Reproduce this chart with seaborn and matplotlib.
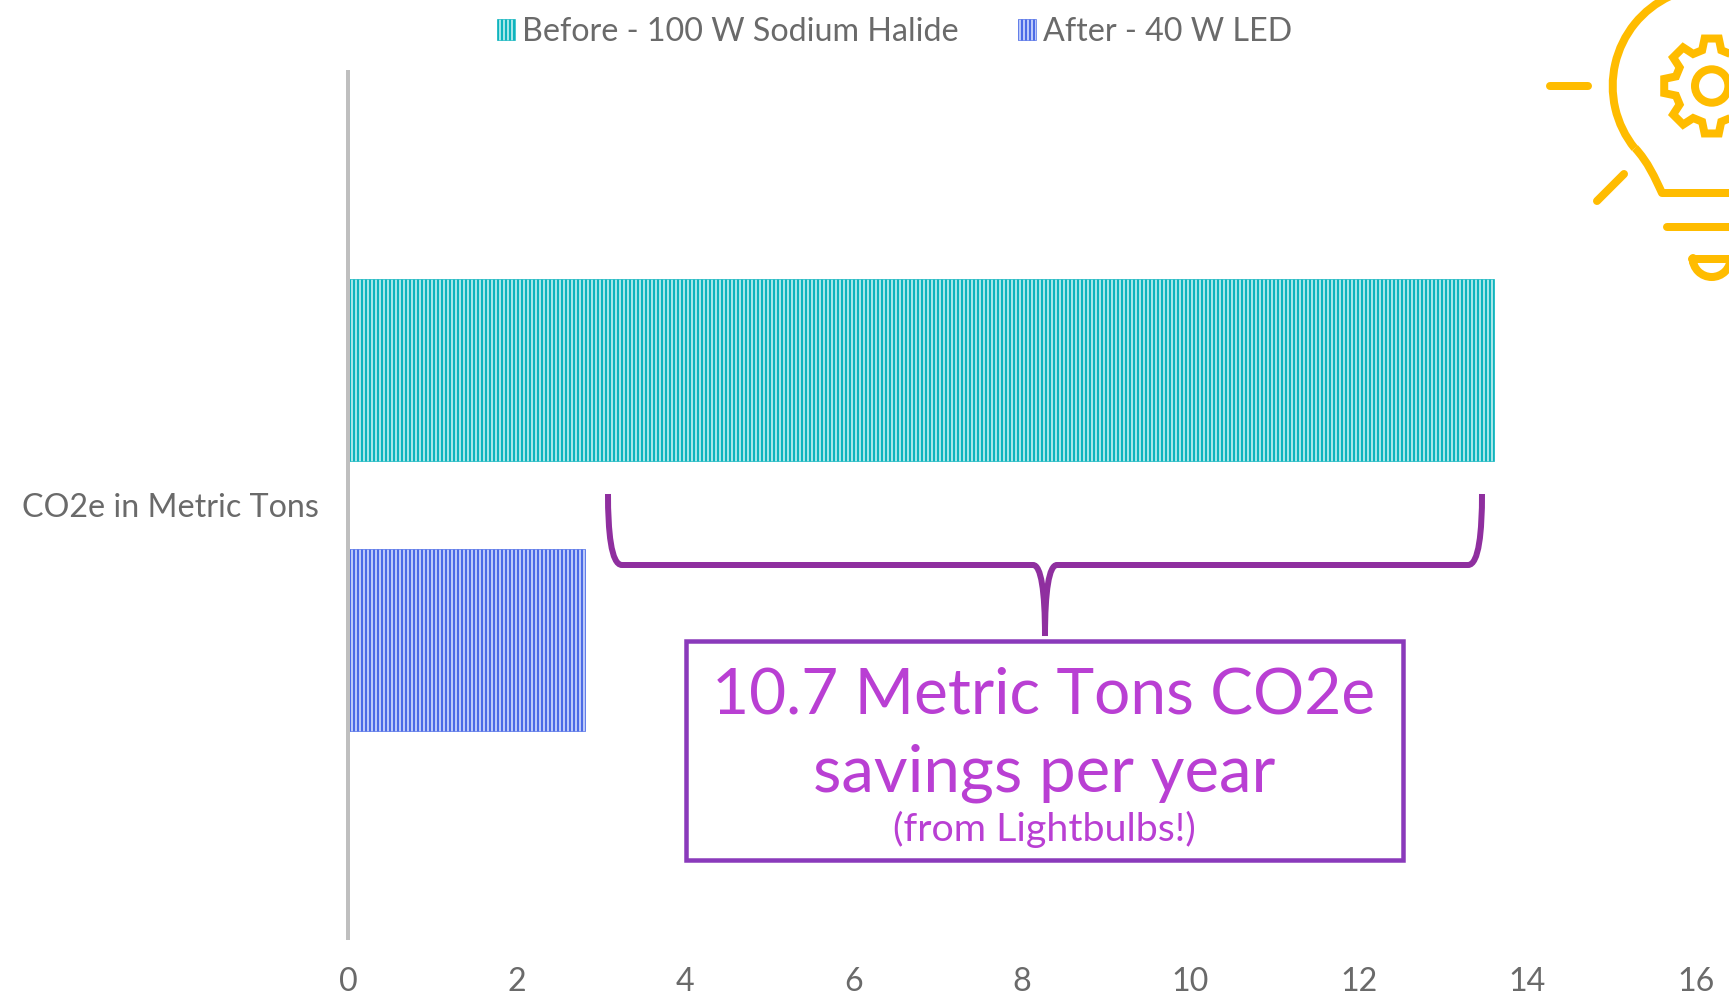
import numpy as np
import pandas as pd
import matplotlib.pyplot as plt
import seaborn as sns
from matplotlib.path import Path
from matplotlib.patches import PathPatch, Rectangle, Arc, Circle

# data
###############################################################################

category = ['CO2e in Metric Tons']
series = ['Before - 100 W Sodium Halide', 'After - 40 W LED']
values = [13.6, 2.81]
savings = [
    '10.7 Metric Tons CO2e',
    'savings per year',
    '(from Lightbulbs!)',
]
xticks = [0, 2, 4, 6, 8, 10, 12, 14, 16]

dark = ['#0FB4BE', '#4C6BE6']
light = ['#A6E6E8', '#BCCAF9']
grey = '#6A6A6A'
bracecol = '#8F2F9F'
boxcol = '#8A3ABB'
textcol = '#B93FD3'
bulbcol = '#FFBC00'

W, H, DPI = 1729, 1003, 96
px = 72 / DPI

sns.set_style('white')
plt.rcParams['font.family'] = ['Lato', 'DejaVu Sans']
plt.rcParams['hatch.linewidth'] = 2 * px

df = pd.DataFrame({'cat': category * 2, 'series': series, 'value': values})

# chart
###############################################################################

f = plt.figure(figsize=(W / DPI, H / DPI), dpi=DPI)
ax = f.add_axes([348 / W, 1 - 938 / H, (1696 - 348) / W, (938 - 72) / H])
sns.barplot(data=df, x='value', y='cat', hue='series', hue_order=series,
            orient='y', palette=light, width=0.624, gap=0.326, ax=ax, legend=False)

handles = []
for cont, d, l in zip(ax.containers, dark, light):
    for p in cont:
        p.set_facecolor(l)
        p.set_edgecolor(d)
        p.set_hatch('||||')
        p.set_linewidth(0.5)
    handles.append(cont[0])

ax.set(xlim=(0, 16), ylim=(0.5, -0.5), xlabel='', ylabel='')
ax.set_xticks(xticks)
ax.tick_params(axis='both', length=0, labelsize=24.2, labelcolor=grey)
ax.tick_params(axis='x', pad=22)
ax.tick_params(axis='y', pad=22)
sns.despine(ax=ax, top=True, right=True, bottom=True)
ax.spines['left'].set_color('#BFBFBF')
ax.spines['left'].set_linewidth(4 * px)

leg = f.legend(handles, series, loc='center', bbox_to_anchor=(894.5 / W, 1 - 32 / H),
               ncol=2, frameon=False, fontsize=24.2, labelcolor=grey,
               handlelength=0.56, handleheight=0.6, handletextpad=0.21, columnspacing=1.85)

# annotation overlay in pixel coordinates
###############################################################################

ov = f.add_axes([0, 0, 1, 1], facecolor='none')
ov.set(xlim=(0, W), ylim=(H, 0))
ov.axis('off')

# brace
cx = 1045
verts = [(608, 494), (608, 531), (611, 565), (622, 565), (1033, 565),
         (1041, 565), (cx, 591), (cx, 636),
         (cx, 591), (2 * cx - 1041, 565), (2 * cx - 1033, 565),
         (2 * cx - 622, 565), (2 * cx - 611, 565), (2 * cx - 608, 531), (2 * cx - 608, 494)]
codes = [Path.MOVETO, Path.CURVE4, Path.CURVE4, Path.CURVE4, Path.LINETO,
         Path.CURVE4, Path.CURVE4, Path.CURVE4,
         Path.CURVE4, Path.CURVE4, Path.CURVE4,
         Path.LINETO, Path.CURVE4, Path.CURVE4, Path.CURVE4]
ov.add_patch(PathPatch(Path(verts, codes), fill=False, edgecolor=bracecol, lw=6 * px, capstyle='butt'))

# savings box
ov.add_patch(Rectangle((686, 641), 717, 219, fill=False, edgecolor=boxcol, lw=4.5 * px))
ov.text(1044, 695, savings[0], color=textcol, fontsize=48, ha='center', va='center')
ov.text(1044, 773, savings[1], color=textcol, fontsize=49, ha='center', va='center')
ov.text(1044, 829, savings[2], color=textcol, fontsize=29.5, ha='center', va='center')

# bulb icon
bx, by = 1711.7, 86
lw = 8 * px
ov.add_patch(Arc((bx, by), 198, 198, theta1=141, theta2=245, color=bulbcol, lw=lw))
curve = Path([(1635, 148), (1648, 162), (1655, 178), (1662, 193), (1740, 193)],
             [Path.MOVETO, Path.CURVE4, Path.CURVE4, Path.CURVE4, Path.LINETO])
ov.add_patch(PathPatch(curve, fill=False, edgecolor=bulbcol, lw=lw, joinstyle='round'))
for xs, ys in [((1550, 1588), (86, 86)), ((1597, 1624), (201, 174)),
               ((1597, 1624), (-29, -2)), ((1667, 1740), (227, 227))]:
    ov.plot(xs, ys, color=bulbcol, lw=lw, solid_capstyle='round')
ov.plot((1692, 1740), (259, 259), color=bulbcol, lw=lw, solid_capstyle='round')
ov.add_patch(Arc((bx, 258), 38, 38, theta1=0, theta2=180, color=bulbcol, lw=lw))
ov.plot((1692.7, 1692.7), (258, 262), color=bulbcol, lw=lw)

# gear
gear = []
for a in np.arange(0, 360, 45):
    for r, da in [(37, -15), (48, -8.5), (48, 8.5), (37, 15)]:
        t = np.radians(a + da)
        gear.append((bx + r * np.cos(t), by + r * np.sin(t)))
ov.add_patch(plt.Polygon(gear, closed=True, fill=False, edgecolor=bulbcol, lw=lw, joinstyle='miter'))
ov.add_patch(Circle((bx, by), 16.7, fill=False, edgecolor=bulbcol, lw=lw))

plt.savefig('out.png', dpi=DPI)
